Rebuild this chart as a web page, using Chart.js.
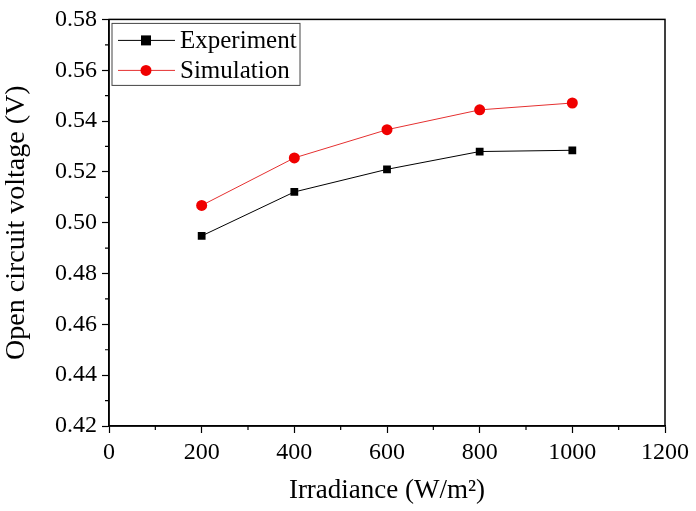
<!DOCTYPE html>
<html>
<head>
<meta charset="utf-8">
<script src="https://cdn.jsdelivr.net/npm/chart.js@4"></script>
<style>
  html, body { margin: 0; padding: 0; background: #fff; }
  #wrap { width: 696px; height: 511px; }
</style>
</head>
<body>
<div id="wrap"><canvas id="vocChart"></canvas></div>
<script>
const irradiance = [200, 400, 600, 800, 1000];
const experiment = [0.4948, 0.5121, 0.5210, 0.5280, 0.5285];
const simulation = [0.5068, 0.5255, 0.5366, 0.5444, 0.5471];
const seriesNames = ['Experiment', 'Simulation'];

const FONT = "'Liberation Serif', 'Times New Roman', serif";

// frame, minor ticks and the inset legend
const framePlugin = {
    id: 'frame',
    afterDraw(chart) {
        const { ctx, chartArea: a, scales } = chart;
        ctx.save();
        ctx.strokeStyle = '#000';
        ctx.lineWidth = 1.5;
        ctx.strokeRect(a.left, a.top, a.right - a.left, a.bottom - a.top);

        ctx.lineWidth = 1.2;
        ctx.beginPath();
        for (let v = 100; v < 1200; v += 200) {
            const px = scales.x.getPixelForValue(v);
            ctx.moveTo(px, a.bottom);
            ctx.lineTo(px, a.bottom + 4);
        }
        for (let v = 0.43; v < 0.58; v += 0.02) {
            const py = scales.y.getPixelForValue(v);
            ctx.moveTo(a.left, py);
            ctx.lineTo(a.left - 4, py);
        }
        ctx.stroke();

        // legend box
        const bx = a.left + 3, by = a.top + 4, bw = 188, bh = 62;
        ctx.lineWidth = 1;
        ctx.strokeStyle = '#444';
        ctx.strokeRect(bx, by, bw, bh);
        ctx.font = '25px ' + FONT;
        ctx.textBaseline = 'middle';
        chart.data.datasets.forEach((ds, i) => {
            const cy = by + 17 + i * 30;
            ctx.strokeStyle = ds.borderColor;
            ctx.lineWidth = 1;
            ctx.beginPath();
            ctx.moveTo(bx + 6, cy);
            ctx.lineTo(bx + 63, cy);
            ctx.stroke();
            ctx.fillStyle = ds.pointBackgroundColor;
            if (ds.pointStyle === 'rect') {
                ctx.fillRect(bx + 29, cy - 5, 10, 10);
            } else {
                ctx.beginPath();
                ctx.arc(bx + 34, cy, 5.5, 0, Math.PI * 2);
                ctx.fill();
            }
            ctx.fillStyle = '#000';
            ctx.fillText(ds.label, bx + 68, cy + 1);
        });
        ctx.restore();
    }
};

const config = {
    type: 'line',
    data: {
        datasets: [{
            label: seriesNames[0],
            data: irradiance.map((x, i) => ({ x: x, y: experiment[i] })),
            borderColor: '#000',
            borderWidth: 1,
            pointStyle: 'rect',
            pointRadius: 5.5,
            pointBackgroundColor: '#000',
            pointBorderColor: '#000',
            pointBorderWidth: 0,
        }, {
            label: seriesNames[1],
            data: irradiance.map((x, i) => ({ x: x, y: simulation[i] })),
            borderColor: '#e53030',
            borderWidth: 1,
            pointStyle: 'circle',
            pointRadius: 5.5,
            pointBackgroundColor: '#f00000',
            pointBorderColor: '#f00000',
            pointBorderWidth: 0,
        }]
    },
    options: {
        responsive: true,
        maintainAspectRatio: false,
        animation: false,
        layout: { padding: { top: 17, right: 31, left: 0, bottom: 0 } },
        plugins: {
            legend: { display: false },
            tooltip: { enabled: false },
        },
        scales: {
            x: {
                type: 'linear',
                min: 0,
                max: 1200,
                afterFit: s => { s.height = 85; },
                ticks: {
                    stepSize: 200,
                    color: '#000',
                    padding: 5,
                    font: { family: FONT, size: 24 },
                    callback: v => String(v),
                },
                grid: {
                    drawOnChartArea: false,
                    tickLength: 7,
                    tickColor: '#000',
                    tickWidth: 1.2,
                },
                border: { color: '#000', width: 1.5 },
                title: {
                    display: true,
                    text: 'Irradiance (W/m²)',
                    color: '#000',
                    font: { family: FONT, size: 27 },
                    padding: { top: 0 },
                },
            },
            y: {
                min: 0.42,
                max: 0.58,
                afterFit: s => { s.width = 109; },
                ticks: {
                    stepSize: 0.02,
                    color: '#000',
                    padding: 5,
                    font: { family: FONT, size: 24 },
                    callback: v => v.toFixed(2),
                },
                grid: {
                    drawOnChartArea: false,
                    tickLength: 7,
                    tickColor: '#000',
                    tickWidth: 1.2,
                },
                border: { color: '#000', width: 1.5 },
                title: {
                    display: true,
                    text: 'Open circuit voltage (V)',
                    color: '#000',
                    font: { family: FONT, size: 28 },
                    padding: { top: 0, bottom: 0 },
                },
            },
        },
    },
    plugins: [framePlugin],
};

new Chart(document.getElementById('vocChart'), config);
</script>
</body>
</html>
